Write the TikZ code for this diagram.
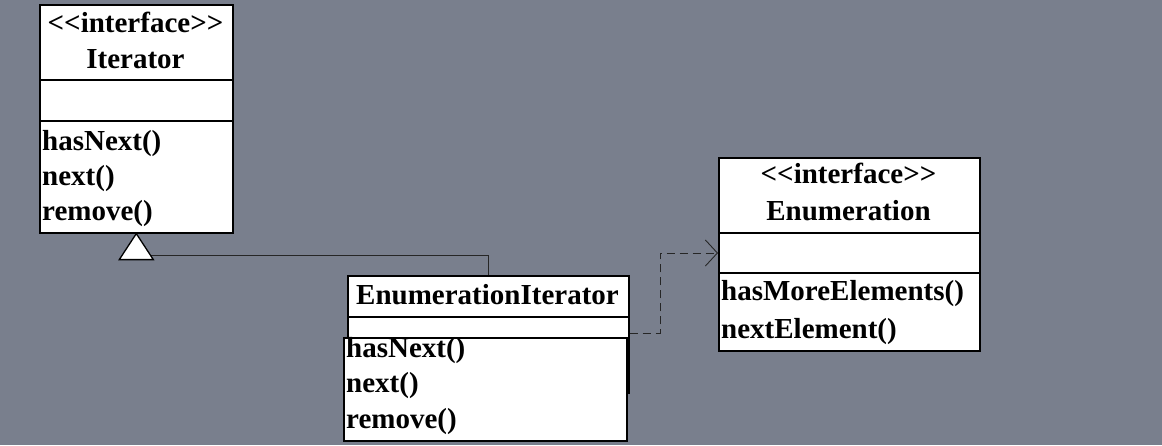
\documentclass[tikz,border=0pt]{standalone}
\usepackage{fontspec}
\setmainfont{Liberation Serif}[Ligatures=TeXOff]
\usetikzlibrary{arrows.meta}
\definecolor{bg}{RGB}{121,127,141}
\newcommand{\stereo}{<\kern0pt<interface>\kern0pt>}
\begin{document}
\begin{tikzpicture}[x=1pt,y=-1pt,
  umlbox/.style={draw=black,line width=1.6pt,fill=white,inner sep=0pt},
  txt/.style={font=\fontsize{29}{35}\selectfont\bfseries,inner sep=0pt},
  conn/.style={draw=black!85,line width=0.9pt}]
\fill[bg] (0,0) rectangle (1162,445);
\useasboundingbox (0,0) rectangle (1162,445);
% Iterator
\node[umlbox,anchor=north west,minimum width=193pt,minimum height=228pt] (iter) at (39,4) {};
\draw[line width=1.6pt] (39,80) -- (232,80) (39,121) -- (232,121);
\node[txt,anchor=base] (iterSt) at (135.5,32) {\stereo};
\node[txt,anchor=base] (iterName) at (135.5,68) {Iterator};
\node[txt,anchor=base west] (iterM1) at (42,150) {hasNext()};
\node[txt,anchor=base west] (iterM2) at (42,185) {next()};
\node[txt,anchor=base west] (iterM3) at (42,220) {remove()};
% Enumeration
\node[umlbox,anchor=north west,minimum width=261pt,minimum height=193pt] (enum) at (718,157) {};
\draw[line width=1.6pt] (718,233) -- (979,233) (718,273) -- (979,273);
\node[txt,anchor=base] (enumSt) at (848.5,183) {\stereo};
\node[txt,anchor=base] (enumName) at (848.5,220) {Enumeration};
\node[txt,anchor=base west] (enumM1) at (721,300) {hasMoreElements()};
\node[txt,anchor=base west] (enumM2) at (721,338) {nextElement()};
% EnumerationIterator
\node[umlbox,anchor=north west,minimum width=281pt,minimum height=117pt] (ei) at (347,275) {};
\draw[line width=1.6pt] (347,317) -- (628,317);
\node[txt,anchor=base] (eiName) at (487.5,304) {EnumerationIterator};
\node[umlbox,anchor=north west,minimum width=283pt,minimum height=103pt] (eiM) at (343,337) {};
\node[txt,anchor=base west] (eiM1) at (346,357) {hasNext()};
\node[txt,anchor=base west] (eiM2) at (346,392) {next()};
\node[txt,anchor=base west] (eiM3) at (346,428) {remove()};
% realization (dashed)
\coordinate (dBend) at (660,333);
\draw[conn,dashed,dash pattern=on 8pt off 5pt,-{Straight Barb[length=12pt,width=26pt,line width=0.9pt]}]
  (ei.east |- dBend) -- (dBend) |- (enum.west |- 0,253);
% generalization
\coordinate (triTip) at (iter.south);
\draw[conn] (ei.north -| 488,0) |- (151,255);
\draw[line width=1.3pt,fill=white,line join=miter] (triTip) -- ++(17,26) -- ++(-34,0) -- cycle;
\end{tikzpicture}
\end{document}
